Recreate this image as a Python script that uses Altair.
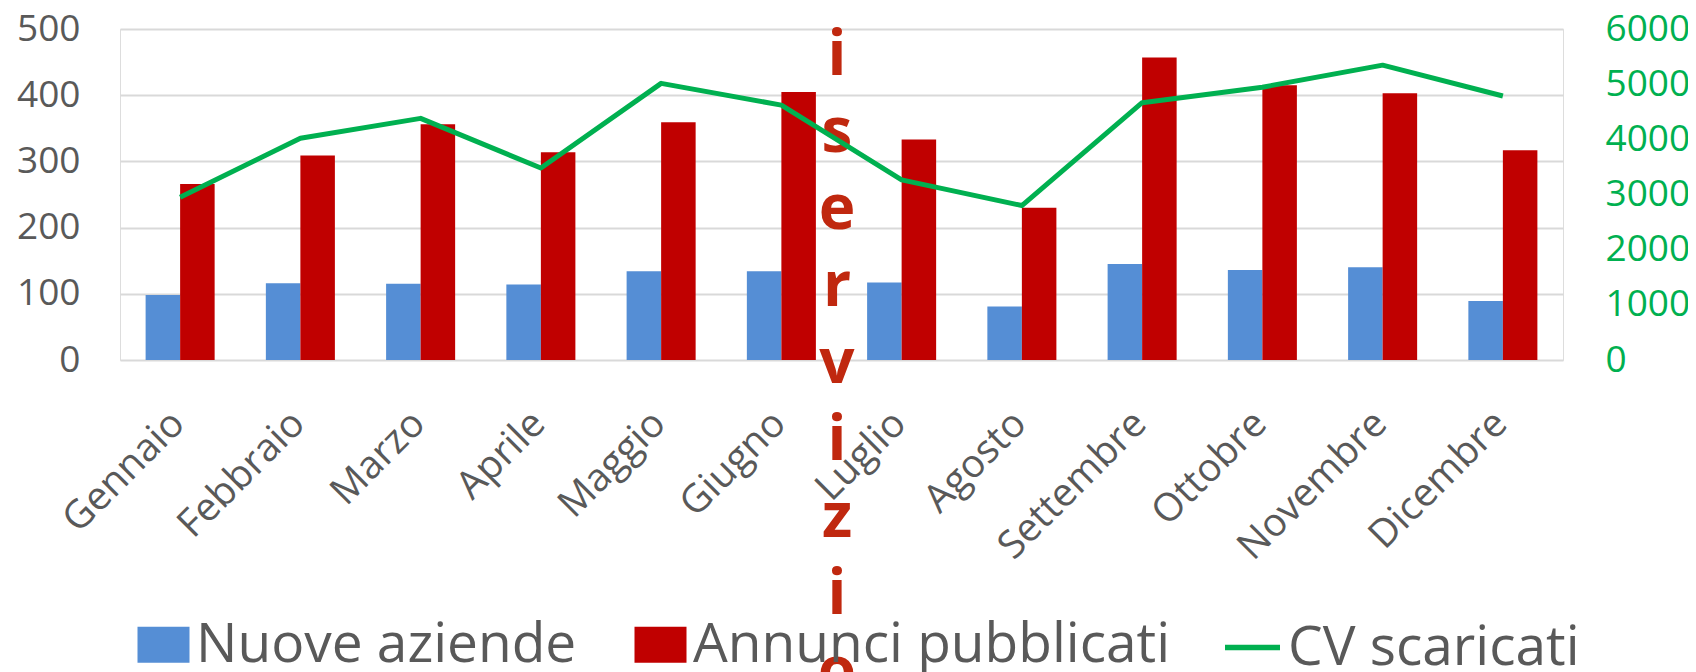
import altair as alt
import pandas as pd

months = ["Gennaio", "Febbraio", "Marzo", "Aprile", "Maggio", "Giugno",
          "Luglio", "Agosto", "Settembre", "Ottobre", "Novembre", "Dicembre"]
nuove_aziende = [98, 116, 115, 114, 134, 134, 117, 81, 145, 136, 140, 89]
annunci_pubblicati = [266, 309, 356, 314, 359, 405, 333, 230, 457, 415, 403, 317]
cv_scaricati = [2950, 4020, 4380, 3480, 5015, 4620, 3265, 2800, 4665, 4945, 5345, 4785]
bar_series = ["Nuove aziende", "Annunci pubblicati"]
line_series = ["CV scaricati"]
left_ticks = [0, 100, 200, 300, 400, 500]
right_ticks = [0, 1000, 2000, 3000, 4000, 5000, 6000]
overlay_word = "iservizio"

bars_df = pd.DataFrame({
    "month": months * 2,
    "series": [bar_series[0]] * 12 + [bar_series[1]] * 12,
    "value": nuove_aziende + annunci_pubblicati,
})
line_df = pd.DataFrame({"month": months, "series": line_series * 12, "value": cv_scaricati})
text_df = pd.DataFrame({"t": ["\n".join(list(overlay_word))]})

FONT = "Open Sans"
GREY = "#595959"

x_enc = alt.X(
    "month:N", sort=months, title=None,
    scale=alt.Scale(paddingInner=0.426, paddingOuter=0.213),
    axis=alt.Axis(labelAngle=-45, labelAlign="right", labelBaseline="middle",
                  labelFont=FONT, labelFontSize=39, labelColor=GREY,
                  labelPadding=57, labelOffset=-2, ticks=False, domain=False,
                  grid=False, labelLimit=0),
)

text_layer = alt.Chart(text_df).mark_text(
    font=FONT, fontSize=62, fontWeight="bold", color="#C0280F",
    align="center", baseline="alphabetic", lineBreak="\n", lineHeight=77,
).encode(text="t:N", x=alt.value(717), y=alt.value(46))

bars = alt.Chart(bars_df).mark_bar(opacity=1).encode(
    x=x_enc,
    xOffset=alt.XOffset("series:N", sort=bar_series, scale=alt.Scale(paddingInner=0, paddingOuter=0)),
    y=alt.Y("value:Q", title=None,
            scale=alt.Scale(domain=[0, 500], nice=False),
            axis=alt.Axis(values=left_ticks, labelFont=FONT, labelFontSize=37,
                          labelColor=GREY, labelPadding=40, ticks=False, domain=False,
                          gridColor="#D9D9D9", gridWidth=2, orient="left")),
    color=alt.Color("series:N", sort=bar_series,
                    scale=alt.Scale(domain=bar_series, range=["#558ED5", "#C00000"]),
                    legend=alt.Legend(orient="none", legendX=16, legendY=588,
                                      direction="horizontal", title=None,
                                      symbolType="M-1,-0.69L1,-0.69L1,0.69L-1,0.69Z",
                                      symbolSize=2704, symbolOpacity=1, symbolStrokeWidth=0,
                                      labelFont=FONT, labelFontSize=55, labelColor=GREY,
                                      labelOffset=5, columnPadding=56, padding=0,
                                      labelLimit=1000)),
)

line = alt.Chart(line_df).mark_line(strokeWidth=5, strokeJoin="round").encode(
    x=alt.X("month:N", sort=months),
    y=alt.Y("value:Q", title=None,
            scale=alt.Scale(domain=[0, 6000], nice=False),
            axis=alt.Axis(values=right_ticks, format="d", orient="right", labelFont=FONT,
                          labelFontSize=37, labelColor="#00B050", labelPadding=42,
                          ticks=False, domain=False, grid=False)),
    color=alt.Color("series:N",
                    scale=alt.Scale(domain=line_series, range=["#00B050"]),
                    legend=alt.Legend(orient="none", legendX=1102, legendY=588,
                                      direction="horizontal", title=None,
                                      symbolType="stroke", symbolSize=3025,
                                      symbolStrokeWidth=5.5,
                                      labelFont=FONT, labelFontSize=55, labelColor=GREY,
                                      labelOffset=5, padding=0, labelLimit=1000)),
)

chart = alt.layer(text_layer, bars, line).resolve_scale(
    y="independent", color="independent"
).properties(
    width=1443, height=331,
    autosize=alt.AutoSizeParams(type="none"),
    padding={"left": 112, "top": 21, "right": 125, "bottom": 312},
).configure_view(stroke=None).configure(background="white")

chart.save("out.html", embed_options={"renderer": "svg", "actions": False})
